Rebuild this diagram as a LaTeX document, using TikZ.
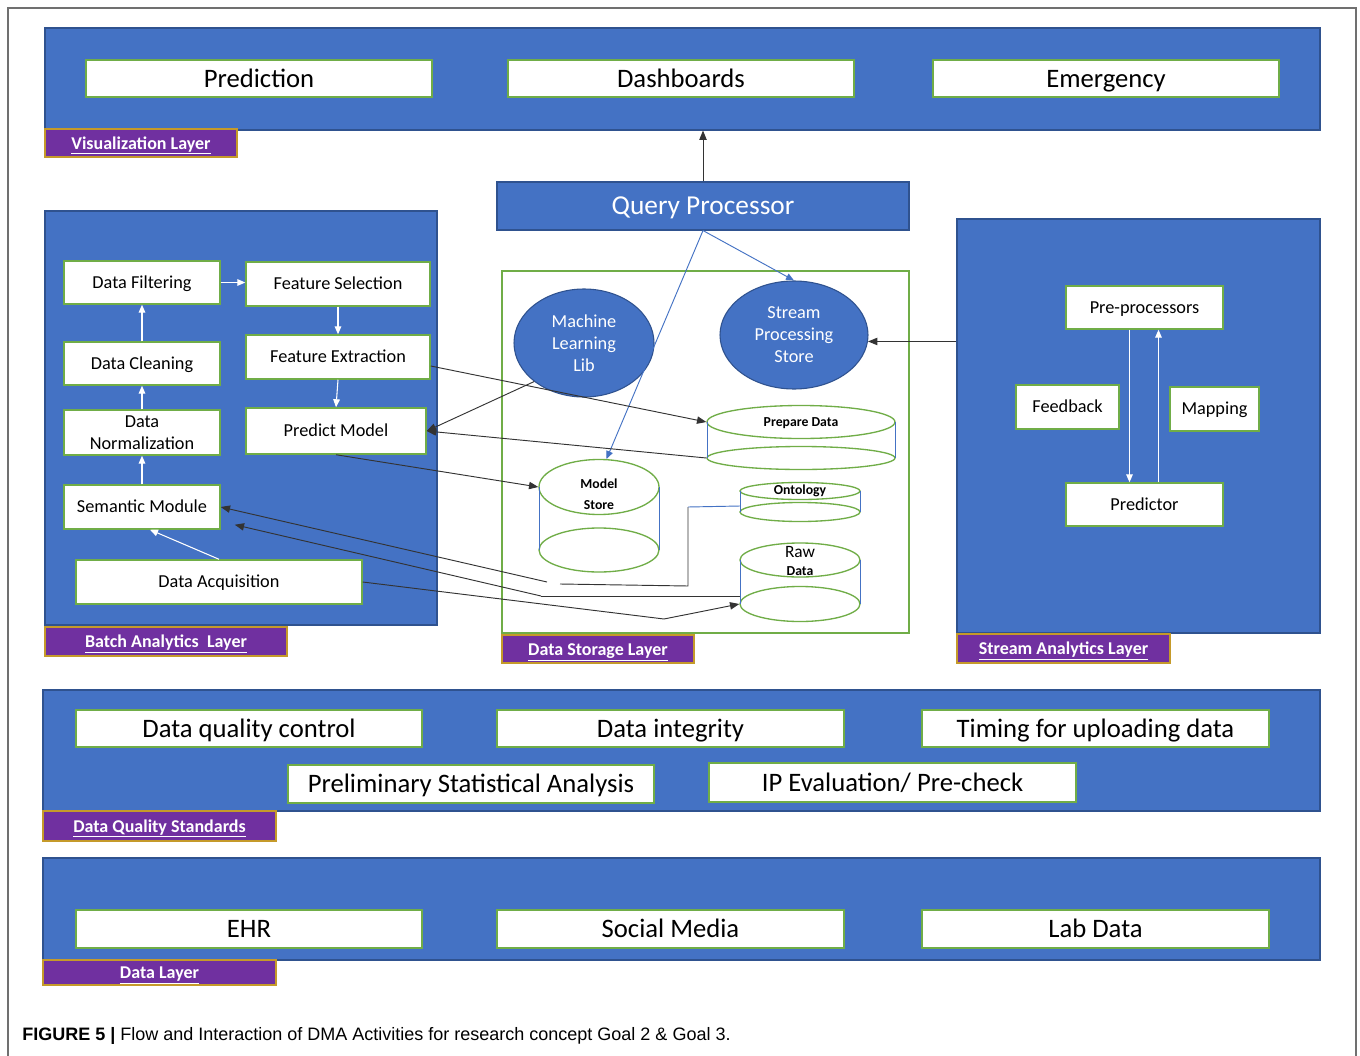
\documentclass[tikz,border=0pt]{standalone}
\usepackage{fontspec}
\usepackage{graphicx}
\setmainfont{Carlito}
\newfontfamily\capfont{Liberation Sans}
\usetikzlibrary{arrows.meta,shapes.geometric,calc}
\definecolor{bandblue}{HTML}{4472C4}
\definecolor{bandedge}{HTML}{2F528F}
\definecolor{boxgreen}{HTML}{70AD47}
\definecolor{labpurple}{HTML}{7030A0}
\definecolor{labedge}{HTML}{C59A2A}
\definecolor{framegray}{HTML}{707070}
\definecolor{linegray}{HTML}{333333}
\newcommand\bx[7]{\node[#7, minimum width={(#4-#2)*0.75pt}, minimum height={(#5-#3)*0.75pt}] (#1) at ({(#2+#4)/2},{(#3+#5)/2}) {#6};}
\begin{document}
\begin{tikzpicture}[x=0.75pt,y=-0.75pt,
  band/.style={rectangle, draw=bandedge, fill=bandblue, line width=0.8pt, inner sep=0pt},
  qpbox/.style={band, text=white, font=\fontsize{20.5}{24}\selectfont, text height=13.5pt, text depth=0.3pt},
  wbox/.style={rectangle, draw=boxgreen, fill=white, line width=1.1pt, inner sep=0pt, text=black, font=\fontsize{20}{24}\selectfont, text height=13.3pt, text depth=0.4pt},
  mbox/.style={rectangle, draw=boxgreen, fill=white, line width=1.1pt, inner sep=0pt, text=black, align=center, font=\fontsize{13.7}{16.5}\selectfont},
  sbox/.style={mbox, text height=9.2pt, text depth=0.4pt},
  lab/.style={rectangle, draw=labedge, fill=labpurple, line width=1pt, inner sep=0pt, text=white, font=\bfseries\fontsize{13.5}{15}\selectfont, text height=9.5pt, text depth=0.5pt},
  storebox/.style={rectangle, draw=boxgreen, line width=1pt, inner sep=0pt},
  ell/.style={ellipse, draw=bandedge, fill=bandblue, line width=0.8pt, inner sep=0pt, text=white, align=center, font=\fontsize{13.7}{16.5}\selectfont},
  cyl/.style={ellipse, draw=boxgreen, fill=white, line width=1pt, inner sep=0pt},
  cylside/.style={draw=bandblue, line width=0.6pt},
  ctext/.style={inner sep=0pt, font=\bfseries\fontsize{10.3}{12}\selectfont},
  blk/.style={-{Triangle[length=7pt,width=5.5pt]}, linegray, line width=0.7pt},
  pln/.style={linegray, line width=0.7pt},
  wht/.style={-{Triangle[length=6pt,width=5pt]}, white, line width=0.8pt},
  blu/.style={-{Triangle[length=6pt,width=5pt]}, bandblue, line width=0.7pt}
]
\useasboundingbox (0,0) rectangle (1360,1056);
\fill[white] (0,0) rectangle (1360,1056);
\draw[framegray, line width=0.9pt] (8,1056) -- (8,8) -- (1356,8) -- (1356,1056);

% Visualization layer
\bx{vis}{45}{28}{1320}{130}{}{band}
\bx{vpred}{86}{60}{432}{97}{Prediction}{wbox}
\bx{dash}{508}{60}{854}{97}{Dashboards}{wbox}
\bx{emer}{933}{60}{1279}{97}{Emergency}{wbox}
\bx{vislab}{45}{129}{237}{157}{\underline{Visualization Layer}}{lab}

% Query processor
\bx{qp}{497}{182}{909}{230}{Query Processor}{qpbox}

% Batch analytics layer
\bx{bal}{45}{211}{437}{625}{}{band}
\bx{ballab}{45}{627}{287}{656}{\underline{Batch Analytics\ \ Layer}}{lab}
\bx{df}{64}{261}{220}{304}{Data Filtering}{sbox}
\bx{fs}{246}{262}{430}{306}{Feature Selection}{sbox}
\bx{dc}{64}{342}{220}{385}{Data Cleaning}{sbox}
\bx{fe}{246}{335}{430}{379}{Feature Extraction}{sbox}
\bx{dn}{64}{410}{220}{455}{Data\\Normalization}{mbox}
\bx{pm}{246}{408}{426}{454}{Predict Model}{sbox}
\bx{sm}{64}{485}{220}{529}{Semantic Module}{sbox}
\bx{da}{76}{560}{362}{604}{Data Acquisition}{sbox}

\draw[wht] (dc.north) -- (df.south);
\draw[wht] (dn.north) -- (dc.south);
\draw[wht] (sm.north) -- (dn.south);
\draw[wht] (df.east) -- (df.east -| fs.west);
\draw[wht] (fs.south) -- (fe.north);
\draw[wht] (fe.south) -- (pm.north);
\draw[wht] (da.north) -- ($(sm.south)+(8,0)$);

% Data storage layer
\bx{dsl}{502}{271}{909}{633}{}{storebox}
\bx{dsllab}{502}{635}{694}{663}{\underline{Data Storage Layer}}{lab}
\node[ell, minimum width=105pt, minimum height=81pt] (mll) at (584,343) {Machine\\Learning\\Lib};
\node[ell, minimum width=111pt, minimum height=81pt] (sps) at (794,335) {Stream\\Processing\\Store};

% Prepare Data cylinder
\node[cyl, minimum width=141pt, minimum height=17.25pt] (pdbot) at (801,458) {};
\node[cyl, minimum width=141pt, minimum height=24.75pt] (pdtop) at (801,422) {};
\draw[cylside] (707,422) -- (707,458);
\draw[cylside] (895,422) -- (895,458);
\node[ctext] (pdtxt) at (801,423) {Prepare Data};

% Model Store cylinder
\node[cyl, minimum width=90pt, minimum height=33pt] (msbot) at (599,550) {};
\node[cyl, minimum width=90pt, minimum height=41.25pt] (mstop) at (599,487) {};
\draw[cylside] (539,487) -- (539,550);
\draw[cylside] (659,487) -- (659,550);
\node[ctext] (mstxt1) at (599,484) {Model};
\node[ctext] (mstxt2) at (599,505) {Store};

% Ontology cylinder
\node[cyl, minimum width=90pt, minimum height=14.25pt] (onbot) at (800,512) {};
\node[cyl, minimum width=90pt, minimum height=12.75pt] (ontop) at (800,491) {};
\draw[cylside] (740,491) -- (740,512);
\draw[cylside] (860,491) -- (860,512);
\node[ctext] (ontxt) at (800,491) {Ontology};

% Raw Data cylinder
\node[cyl, minimum width=90pt, minimum height=26.25pt] (rawbot) at (800,604) {};
\node[cyl, minimum width=90pt, minimum height=25.5pt] (rawtop) at (800,560) {};
\draw[cylside] (740,560) -- (740,604);
\draw[cylside] (860,560) -- (860,604);
\node[inner sep=0pt, font=\fontsize{13}{15}\selectfont] (rawtxt1) at (800,552) {Raw};
\node[ctext] (rawtxt2) at (800,571) {Data};

% Stream analytics layer
\bx{sal}{957}{219}{1320}{633}{}{band}
\bx{sallab}{957}{634}{1170}{663}{\underline{Stream Analytics Layer}}{lab}
\bx{pre}{1066}{286}{1223}{329}{Pre-processors}{sbox}
\bx{fb}{1016}{385}{1119}{429}{Feedback}{sbox}
\bx{map}{1170}{387}{1259}{431}{Mapping}{sbox}
\bx{sprd}{1066}{483}{1223}{526}{Predictor}{sbox}
\draw[wht] ($(pre.south)+(-15,0)$) -- ($(sprd.north)+(-15,0)$);
\draw[wht] ($(sprd.north)+(14,0)$) -- ($(pre.south)+(14,0)$);

% Data quality standards
\bx{dqs}{43}{690}{1320}{811}{}{band}
\bx{dqslab}{43}{811}{276}{841}{\underline{Data Quality Standards}}{lab}
\bx{dqc}{76}{710}{422}{747}{Data quality control}{wbox}
\bx{dint}{497}{710}{844}{747}{Data integrity}{wbox}
\bx{tim}{922}{710}{1269}{747}{Timing for uploading data}{wbox}
\bx{psa}{288}{765}{654}{803}{Preliminary Statistical Analysis}{wbox}
\bx{ipe}{709}{763}{1076}{802}{IP Evaluation/ Pre-check}{wbox}

% Data layer
\bx{dl}{43}{858}{1320}{960}{}{band}
\bx{dllab}{43}{960}{276}{985}{\underline{Data Layer}}{lab}
\bx{ehr}{76}{910}{422}{948}{EHR}{wbox}
\bx{soc}{497}{910}{844}{948}{Social Media}{wbox}
\bx{labd}{922}{910}{1269}{948}{Lab Data}{wbox}

% Connectors
\draw[blk] (qp.north) -- (qp.north |- vis.south);
\draw[blu] (qp.south) -- (mstop.75);
\draw[blu] (qp.south) -- (sps.north);
\draw[blk] (sal.west |- sps.-5) -- (sps.-5);

\draw[blk] ($(fe.east)+(0,9)$) -- (pdtop.west);
\draw[blk] (mll.south west) -- (pm.east);
\draw[blk] (pdbot.west) -- (pm.east);
\draw[blk] (pm.south) -- (mstop.west);

\coordinate (c5a) at (547,582);
\coordinate (c5b) at (560,584);
\coordinate (c5c) at (688,586);
\coordinate (c5d) at (688,507);
\coordinate (ontL) at (740,506);
\coordinate (c6a) at (541,596);
\coordinate (rawL) at (740,596);
\coordinate (c7a) at (664,619);
\draw[blk] (c5a) -- (sm.east);
\draw[pln] (c5b) -- (c5c) -- (c5d);
\draw[bandblue, line width=0.7pt] (c5d) -- (ontL);
\draw[pln] (rawL) -- (c6a);
\draw[blk] (c6a) -- ($(sm.south east)+(14,-5)$);
\draw[pln] (da.east) -- (c7a);
\draw[blk] (c7a) -- (rawbot.west);

% Caption
\node[anchor=west, inner sep=0pt] (cap) at (22,1036) {\capfont\fontsize{13.5}{16}\selectfont\textbf{FIGURE 5 |} Flow and Interaction of DMA Activities for research concept Goal 2 \& Goal 3.};
\end{tikzpicture}
\end{document}
